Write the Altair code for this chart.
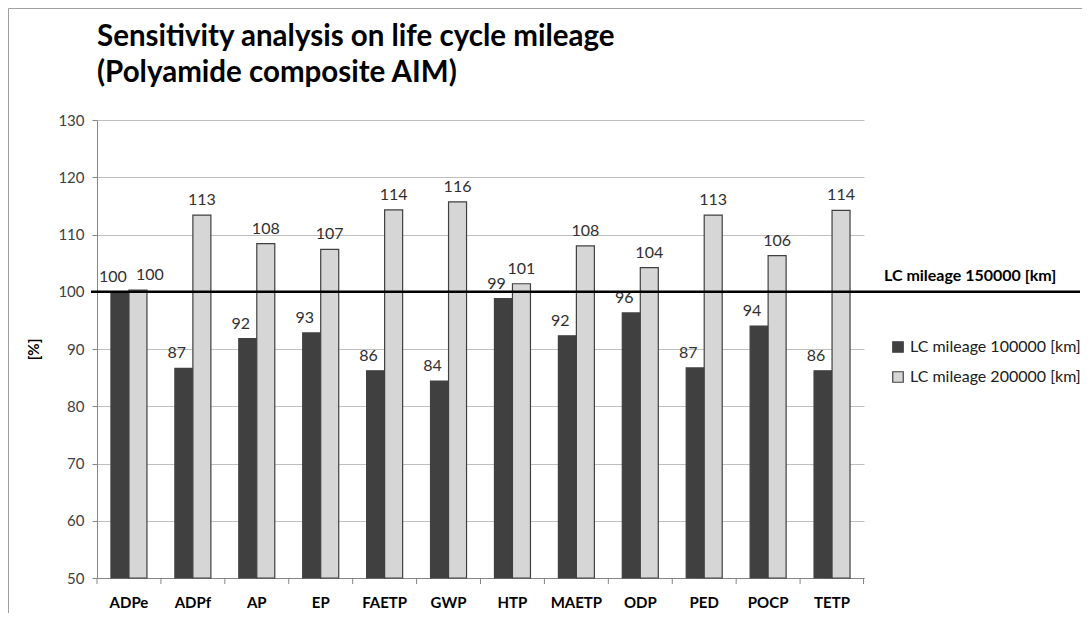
import altair as alt
import pandas as pd

categories = ["ADPe", "ADPf", "AP", "EP", "FAETP", "GWP", "HTP", "MAETP", "ODP", "PED", "POCP", "TETP"]
series_names = ["LC mileage 100000 [km]", "LC mileage 200000 [km]"]
mileage_100k = [100.0, 86.6, 91.8, 92.8, 86.2, 84.4, 98.8, 92.3, 96.3, 86.7, 94.0, 86.2]
mileage_200k = [100.3, 113.4, 108.4, 107.4, 114.3, 115.7, 101.4, 108.0, 104.2, 113.4, 106.3, 114.2]
y_ticks = [50, 60, 70, 80, 90, 100, 110, 120, 130]
reference_value = 100
reference_label = "LC mileage 150000 [km]"
title_lines = ["Sensitivity analysis on life cycle mileage", "(Polyamide composite AIM)"]

rows = []
for c, a, b in zip(categories, mileage_100k, mileage_200k):
    rows.append({"category": c, "series": series_names[0], "value": a})
    rows.append({"category": c, "series": series_names[1], "value": b})
df = pd.DataFrame(rows)
cat_df = pd.DataFrame({"category": categories})

FONT = "Lato"
W, H = 767, 458

x_scale = alt.Scale(domain=categories, paddingInner=0, paddingOuter=0)
x_axis = alt.Axis(title=None, labelAngle=0, labelFont=FONT, labelFontWeight="bold",
                  labelFontSize=15, labelColor="#000000", labelPadding=17,
                  domainColor="#868686", ticks=False, grid=False, gridOpacity=0)
x_enc = alt.X("category:N", sort=categories, scale=x_scale, axis=x_axis)
xoff_enc = alt.XOffset("series:N", sort=series_names,
                       scale=alt.Scale(paddingInner=0, paddingOuter=0.775))
y_scale = alt.Scale(domain=[50, 130], zero=False, nice=False)
y_axis = alt.Axis(values=y_ticks, title="[%]", titleFont=FONT, titleFontSize=15,
                  titleFontWeight="bold", titleColor="#000000", titlePadding=16,
                  labelFont=FONT, labelFontSize=15, labelColor="#404040",
                  labelPadding=8, domainColor="#868686", tickColor="#868686",
                  tickSize=5, grid=True, gridColor="#bfbfbf", gridWidth=1)
y_enc = alt.Y("value:Q", scale=y_scale, axis=y_axis)

bars = alt.Chart(df).mark_bar(stroke="#404040", strokeWidth=1.2).encode(
    x=x_enc,
    xOffset=xoff_enc,
    y=y_enc,
    y2=alt.datum(50),
    fill=alt.Fill("series:N", sort=series_names,
                  scale=alt.Scale(domain=series_names, range=["#404040", "#d6d6d6"]),
                  legend=alt.Legend(title=None, orient="none", legendX=793, legendY=219,
                                    labelFont=FONT, labelFontSize=16, labelColor="#202020",
                                    labelLimit=400,
                                    symbolType="square", symbolSize=110, symbolStrokeWidth=1.2,
                                    rowPadding=14, labelOffset=4)),
)

# category boundary ticks on the x axis
x_ticks = alt.Chart(cat_df).mark_rule(color="#868686", strokeWidth=1).encode(
    x=alt.X("category:N", sort=categories, scale=x_scale, axis=x_axis, bandPosition=0),
    y=alt.value(H), y2=alt.value(H + 6),
)
x_tick_end = alt.Chart(alt.Data(values=[{}])).mark_rule(color="#868686", strokeWidth=1).encode(
    x=alt.value(W - 0.5), y=alt.value(H), y2=alt.value(H + 6),
)

def value_labels(series, dx, cond):
    return alt.Chart(df).transform_joinaggregate(
        vmin="min(value)", vmax="max(value)", groupby=["category"]
    ).transform_calculate(
        gap="datum.vmax - datum.vmin"
    ).transform_filter(
        (alt.datum.series == series) & cond
    ).mark_text(font=FONT, fontSize=16, color="#303030", baseline="alphabetic",
                dy=-10, dx=dx).encode(
        x=alt.X("category:N", sort=categories, scale=x_scale, axis=x_axis),
        xOffset=alt.XOffset("series:N", sort=series_names),
        y=alt.Y("value:Q", scale=y_scale, axis=y_axis),
        text=alt.Text("value:Q", format=".0f"),
    )

labels_dark = value_labels(series_names[0], -7, alt.datum.gap >= 0)
labels_light = value_labels(series_names[1], 0, alt.datum.gap >= 2)
labels_light_tied = value_labels(series_names[1], 12, alt.datum.gap < 2)

one = alt.Data(values=[{}])
ref_rule = alt.Chart(one).mark_rule(color="#000000", strokeWidth=2.5).encode(
    y=alt.datum(reference_value, scale=y_scale), x=alt.value(-6), x2=alt.value(983)
)
ref_text = alt.Chart(one).mark_text(font=FONT, fontSize=16, fontWeight="bold", color="#000000",
                                    align="left", baseline="middle", dy=-16).encode(
    y=alt.datum(reference_value), x=alt.value(787), text=alt.value(reference_label)
)
title_text = alt.Chart(one).mark_text(font=FONT, fontSize=29.5, fontWeight="bold", color="#000000",
                                      align="left", baseline="alphabetic", lineHeight=36).encode(
    x=alt.value(0), y=alt.value(-74), text=alt.value(title_lines)
)
frame_left = alt.Chart(one).mark_rule(color="#a0a0a0", strokeWidth=1).encode(
    x=alt.value(-88.5), y=alt.value(-111.5), y2=alt.value(H + 40)
)
frame_top = alt.Chart(one).mark_rule(color="#a0a0a0", strokeWidth=1).encode(
    y=alt.value(-111.5), x=alt.value(-88.5), x2=alt.value(990)
)

chart = alt.layer(frame_left, frame_top, bars, x_ticks, x_tick_end, labels_dark, labels_light,
                  labels_light_tied, ref_rule, ref_text, title_text).properties(
    width=W, height=H,
    background="white",
    autosize=alt.AutoSizeParams(type="none"),
    padding={"left": 89, "top": 112, "right": 218, "bottom": 35},
).configure_axisX(grid=False).configure_axisBand(grid=False).configure_axisDiscrete(
    grid=False
).configure_view(stroke="transparent", strokeOpacity=0)

chart.save("out.html", embed_options={"renderer": "svg", "actions": False})
